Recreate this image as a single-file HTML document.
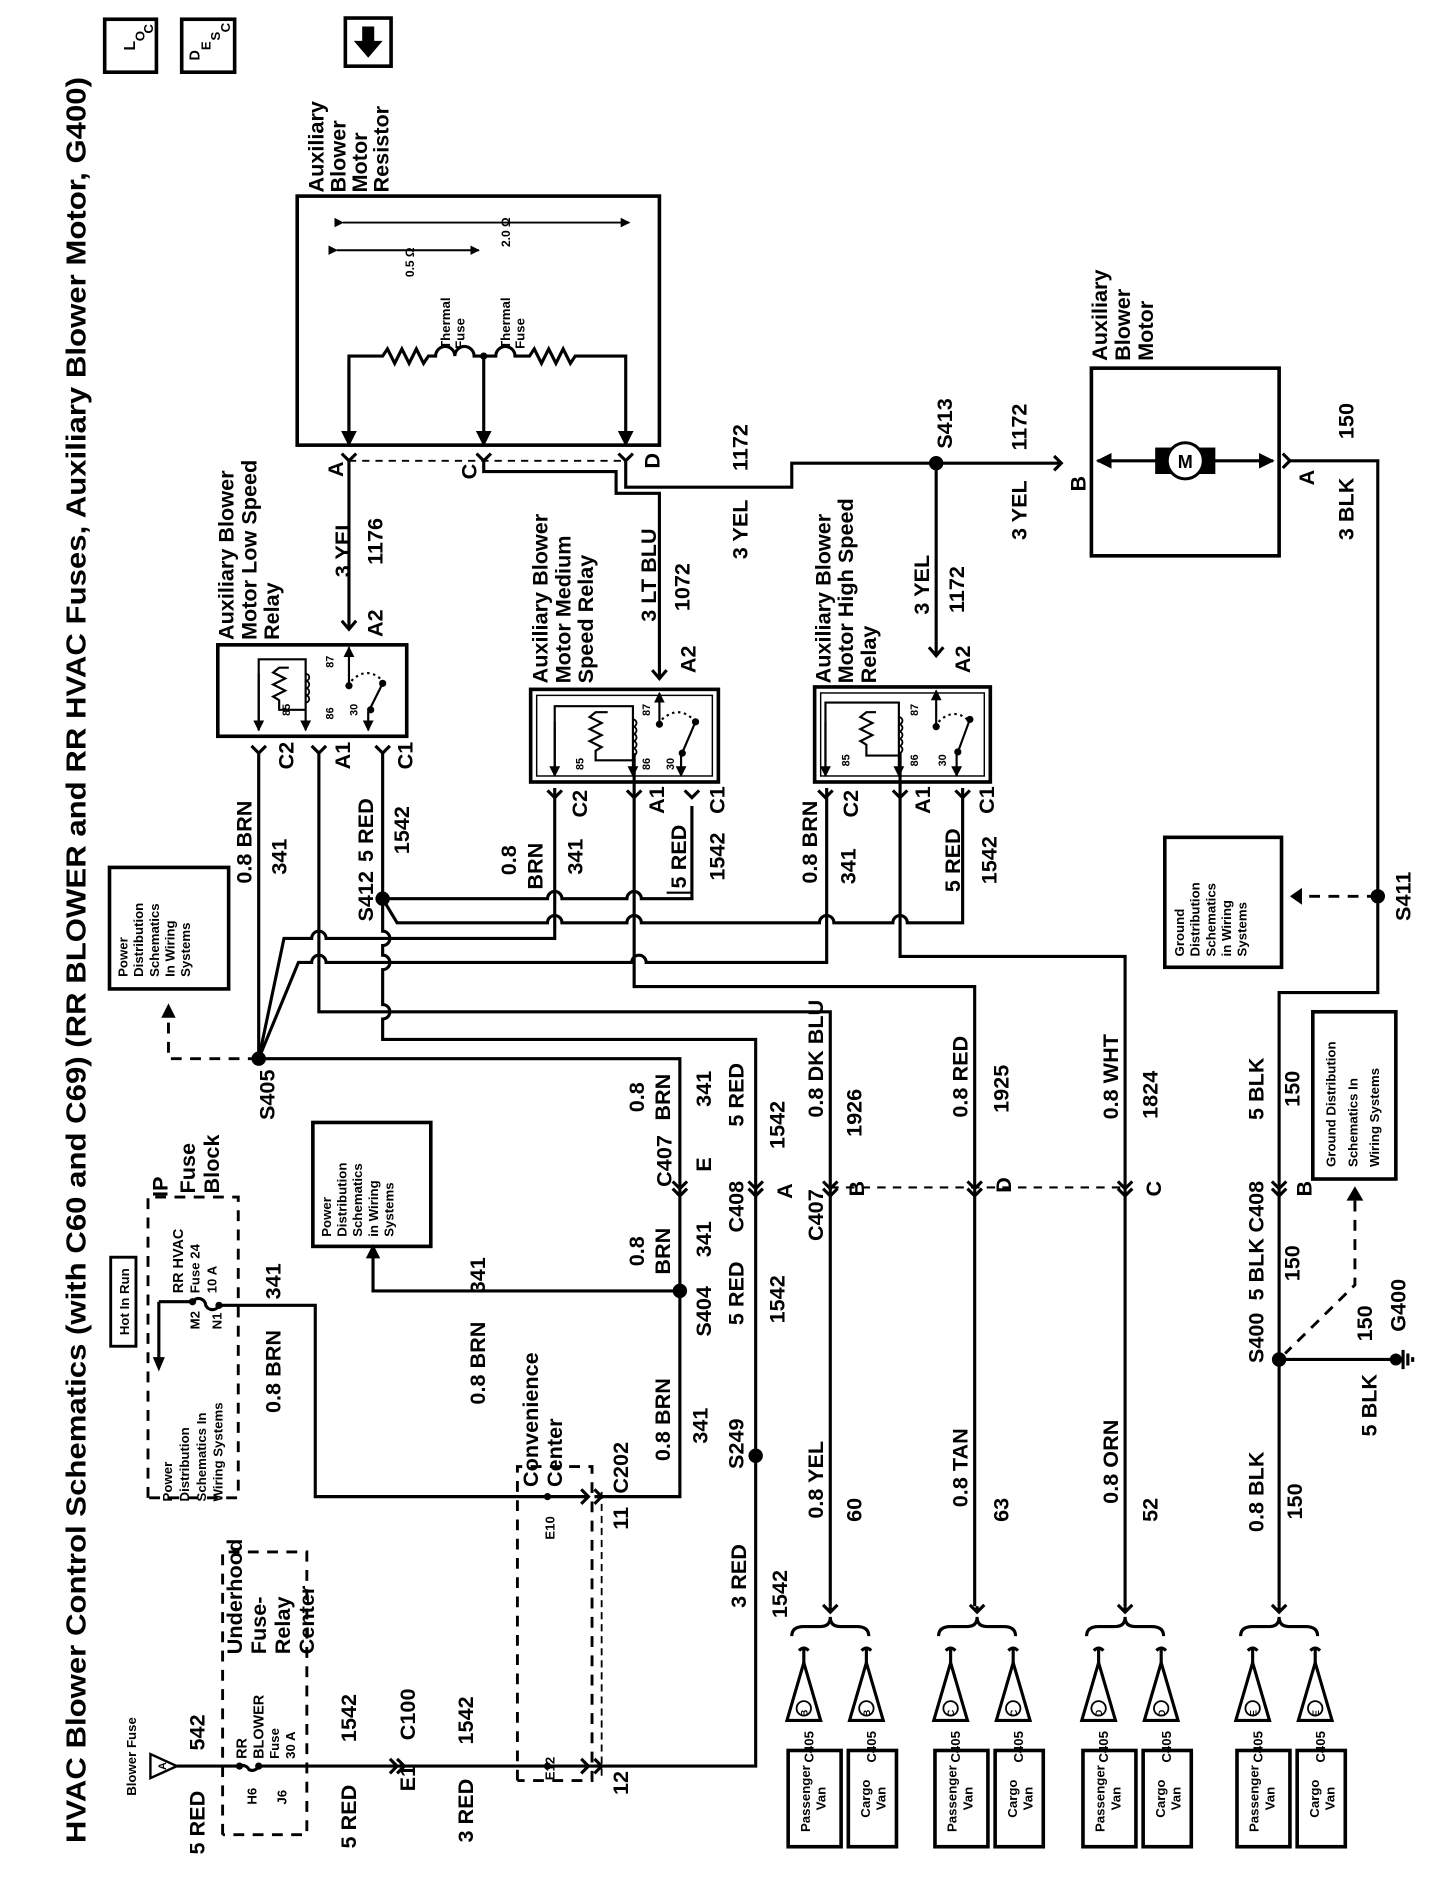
<!DOCTYPE html>
<html><head><meta charset="utf-8"><style>
html,body{margin:0;padding:0;background:#fff}
svg{display:block}
text{font-family:"Liberation Sans",Arial,sans-serif;font-weight:bold;fill:#000}
.t{font-size:18px;text-anchor:middle}
.s{font-size:18px;text-anchor:start}
.e{font-size:18px;text-anchor:end}
.m{font-size:11px;text-anchor:start}
.sm{font-size:10px;text-anchor:middle}
.w{stroke:#000;stroke-width:2.6;fill:none}
.d{stroke:#000;stroke-width:2.4;fill:none;stroke-dasharray:9 7}
.b{stroke:#000;stroke-width:3;fill:none}
</style></head><body>
<svg width="1456" height="1878" viewBox="0 0 1210 1561" preserveAspectRatio="none" xmlns="http://www.w3.org/2000/svg">
<defs>
<marker id="ah" viewBox="0 0 10 10" refX="9" refY="5" markerWidth="5" markerHeight="5" orient="auto"><path d="M0,0 L10,5 L0,10 z" fill="#000"/></marker>
</defs>

<!-- Title -->
<text class="s" style="font-size:23px" textLength="1468" lengthAdjust="spacingAndGlyphs" transform="translate(71 1532) rotate(-90)">HVAC Blower Control Schematics (with C60 and C69) (RR BLOWER and RR HVAC Fuses, Auxiliary Blower Motor, G400)</text>

<!-- top icons -->
<rect x="87" y="16" width="43" height="44" class="b"/>
<text class="sm" style="font-size:13px" transform="translate(112 38) rotate(-90)">L</text>
<text class="sm" style="font-size:11px" transform="translate(120 30) rotate(-90)">O</text>
<text class="sm" style="font-size:11px" transform="translate(127 24) rotate(-90)">C</text>
<rect x="151" y="16" width="44" height="44" class="b"/>
<text class="sm" style="font-size:12px" transform="translate(166 46) rotate(-90)">D</text>
<text class="sm" style="font-size:11px" transform="translate(175 38) rotate(-90)">E</text>
<text class="sm" style="font-size:11px" transform="translate(183 30) rotate(-90)">S</text>
<text class="sm" style="font-size:11px" transform="translate(191 23) rotate(-90)">C</text>
<rect x="287" y="15" width="38" height="40" class="b"/>
<path d="M301,22 h10 v12 h7 l-12,14 l-12,-14 h7 z" fill="#000"/>

<!-- Resistor -->
<text class="s" transform="translate(269 160) rotate(-90)">Auxiliary</text>
<text class="s" transform="translate(287 160) rotate(-90)">Blower</text>
<text class="s" transform="translate(305 160) rotate(-90)">Motor</text>
<text class="s" transform="translate(323 160) rotate(-90)">Resistor</text>
<rect x="247" y="163" width="301" height="207" class="b"/>
<line x1="285" y1="185" x2="523" y2="185" class="w" marker-end="url(#ah)" marker-start="url(#ah)" style="stroke-width:1.6"/>
<line x1="280" y1="208" x2="398" y2="208" class="w" marker-end="url(#ah)" marker-start="url(#ah)" style="stroke-width:1.6"/>
<text class="sm" transform="translate(424 193) rotate(-90)">2.0 Ω</text>
<text class="sm" transform="translate(344 218) rotate(-90)">0.5 Ω</text>
<text class="m" transform="translate(374 290) rotate(-90)">Thermal</text>
<text class="m" transform="translate(386 290) rotate(-90)">Fuse</text>
<text class="m" transform="translate(424 290) rotate(-90)">Thermal</text>
<text class="m" transform="translate(436 290) rotate(-90)">Fuse</text>
<path class="w" d="M290,370 V296 H318 l4,-6 l6,12 l6,-12 l6,12 l6,-12 l6,12 l4,-6 H362 a8,8 0 0 1 16,0 a8,8 0 0 1 16,0 H412 a8,8 0 0 1 16,0 H440 l4,-6 l6,12 l6,-12 l6,12 l6,-12 l6,12 l4,-6 H520 V370" marker-end="url(#ah)"/>
<line x1="290" y1="300" x2="290" y2="370" class="w" marker-end="url(#ah)"/>
<line x1="402" y1="296" x2="402" y2="370" class="w" marker-end="url(#ah)"/>
<circle cx="402" cy="296" r="3"/>
<line x1="290" y1="383" x2="520" y2="383" class="d" style="stroke-width:1.6;stroke-dasharray:6 5"/>
<text class="t" transform="translate(285 390) rotate(-90)">A</text>
<text class="t" transform="translate(396 392) rotate(-90)">C</text>
<text class="t" transform="translate(548 383) rotate(-90)">D</text>
<path class="w" d="M284,377 l6,6 l6,-6 M396,377 l6,6 l6,-6 M514,377 l6,6 l6,-6"/>

<!-- Wire A to low relay -->
<path class="w" d="M290,383 V522"/>
<path class="w" d="M284,516 l6,7 l6,-7"/>
<text class="t" transform="translate(291 455) rotate(-90)">3 YEL</text>
<text class="t" transform="translate(318 450) rotate(-90)">1176</text>
<text class="t" transform="translate(318 518) rotate(-90)">A2</text>

<!-- Low relay -->
<text class="s" transform="translate(194 532) rotate(-90)">Auxiliary Blower</text>
<text class="s" transform="translate(213 532) rotate(-90)">Motor Low Speed</text>
<text class="s" transform="translate(232 532) rotate(-90)">Relay</text>
<rect x="181" y="536" width="157" height="76" class="b"/>
<path class="w" d="M215,607 V548 H254 V607" marker-end="url(#ah)" style="stroke-width:1.8"/>
<line x1="215" y1="560" x2="215" y2="607" class="w" marker-end="url(#ah)" style="stroke-width:1.8"/>
<path class="w" style="stroke-width:1.8" d="M240,555 H232 l-5,4 l10,5 l-10,5 l10,5 l-10,5 l5,3 V590 H254"/>
<path class="w" style="stroke-width:1.5" d="M254,560 a3,3 0 0 1 0,6 a3,3 0 0 1 0,6 a3,3 0 0 1 0,6 a3,3 0 0 1 0,6"/>
<line x1="290" y1="570" x2="290" y2="538" class="w" marker-end="url(#ah)" style="stroke-width:1.8"/>
<circle cx="290" cy="570" r="3"/>
<path d="M292,566 q12,-12 24,-2" class="w" style="stroke-dasharray:2 3;stroke-width:1.8"/>
<path class="w" style="stroke-width:1.8" d="M318,568 L306,592 V607" marker-end="url(#ah)"/>
<circle cx="318" cy="568" r="3"/><circle cx="308" cy="590" r="3"/>
<text class="sm" style="font-size:9px" transform="translate(241 590) rotate(-90)">85</text>
<text class="sm" style="font-size:9px" transform="translate(277 593) rotate(-90)">86</text>
<text class="sm" style="font-size:9px" transform="translate(277 550) rotate(-90)">87</text>
<text class="sm" style="font-size:9px" transform="translate(297 590) rotate(-90)">30</text>
<path class="w" d="M209,620 l6,6 l6,-6 M259,620 l6,6 l6,-6 M312,620 l6,6 l6,-6"/>
<text class="t" transform="translate(244 628) rotate(-90)">C2</text>
<text class="t" transform="translate(291 628) rotate(-90)">A1</text>
<text class="t" transform="translate(343 628) rotate(-90)">C1</text>
<text class="t" transform="translate(209 700) rotate(-90)">0.8 BRN</text>
<text class="t" transform="translate(238 712) rotate(-90)">341</text>
<text class="t" transform="translate(310 690) rotate(-90)">5 RED</text>
<text class="t" transform="translate(340 690) rotate(-90)">1542</text>
<text class="t" transform="translate(310 745) rotate(-90)">S412</text>

<!-- C wire to medium relay -->
<path class="w" d="M402,383 V392 H512 V410 H548 V563"/>
<path class="w" d="M542,557 l6,7 l6,-7"/>
<text class="t" transform="translate(545 478) rotate(-90)">3 LT BLU</text>
<text class="t" transform="translate(573 488) rotate(-90)">1072</text>
<text class="t" transform="translate(578 548) rotate(-90)">A2</text>

<!-- Medium relay -->
<text class="s" transform="translate(455 568) rotate(-90)">Auxiliary Blower</text>
<text class="s" transform="translate(474 568) rotate(-90)">Motor Medium</text>
<text class="s" transform="translate(493 568) rotate(-90)">Speed Relay</text>
<rect x="441" y="573" width="156" height="77" class="b"/>
<rect x="446" y="578" width="146" height="67" class="w" style="stroke-width:1.2"/>
<path class="w" d="M461,645 V587 H526 V645" marker-end="url(#ah)" style="stroke-width:1.8"/>
<line x1="461" y1="600" x2="461" y2="645" class="w" marker-end="url(#ah)" style="stroke-width:1.8"/>
<path class="w" style="stroke-width:1.8" d="M505,592 H495 l-5,4 l10,5 l-10,5 l10,5 l-10,5 l10,5 l-5,3 V632 H526"/>
<path class="w" style="stroke-width:1.5" d="M526,598 a3,3 0 0 1 0,6 a3,3 0 0 1 0,6 a3,3 0 0 1 0,6 a3,3 0 0 1 0,6 a3,3 0 0 1 0,6"/>
<line x1="548" y1="602" x2="548" y2="576" class="w" marker-end="url(#ah)" style="stroke-width:1.8"/>
<circle cx="548" cy="602" r="3"/>
<path d="M550,598 q14,-12 26,0" class="w" style="stroke-dasharray:2 3;stroke-width:1.8"/>
<path class="w" style="stroke-width:1.8" d="M578,600 L566,628 V645" marker-end="url(#ah)"/>
<circle cx="578" cy="600" r="3"/><circle cx="567" cy="626" r="3"/>
<text class="sm" style="font-size:9px" transform="translate(485 635) rotate(-90)">85</text>
<text class="sm" style="font-size:9px" transform="translate(540 635) rotate(-90)">86</text>
<text class="sm" style="font-size:9px" transform="translate(540 590) rotate(-90)">87</text>
<text class="sm" style="font-size:9px" transform="translate(560 635) rotate(-90)">30</text>
<path class="w" d="M455,657 l6,6 l6,-6 M521,657 l6,6 l6,-6 M569,657 l6,6 l6,-6"/>
<text class="t" transform="translate(488 668) rotate(-90)">C2</text>
<text class="t" transform="translate(552 665) rotate(-90)">A1</text>
<text class="t" transform="translate(602 665) rotate(-90)">C1</text>
<text class="t" transform="translate(429 715) rotate(-90)">0.8</text>
<text class="t" transform="translate(451 720) rotate(-90)">BRN</text>
<text class="t" transform="translate(484 712) rotate(-90)">341</text>
<text class="t" transform="translate(570 712) rotate(-90)">5 RED</text>
<path class="w" style="stroke-width:1.8" d="M554,742 H575 V670"/>
<text class="t" transform="translate(602 712) rotate(-90)">1542</text>

<!-- D wire to motor -->
<path class="w" d="M520,383 V405 H658 V385 H882"/>
<path class="w" d="M876,379 l6,6 l-6,6"/>
<text class="t" transform="translate(621 440) rotate(-90)">3 YEL</text>
<text class="t" transform="translate(621 372) rotate(-90)">1172</text>
<circle cx="778" cy="385" r="6"/>
<text class="t" transform="translate(791 352) rotate(-90)">S413</text>
<text class="t" transform="translate(853 355) rotate(-90)">1172</text>
<text class="t" transform="translate(853 424) rotate(-90)">3 YEL</text>
<path class="w" d="M778,385 V544"/>
<path class="w" d="M772,538 l6,7 l6,-7"/>
<text class="t" transform="translate(772 486) rotate(-90)">3 YEL</text>
<text class="t" transform="translate(801 490) rotate(-90)">1172</text>
<text class="t" transform="translate(806 548) rotate(-90)">A2</text>

<!-- High relay -->
<text class="s" transform="translate(690 568) rotate(-90)">Auxiliary Blower</text>
<text class="s" transform="translate(709 568) rotate(-90)">Motor High Speed</text>
<text class="s" transform="translate(728 568) rotate(-90)">Relay</text>
<rect x="677" y="571" width="146" height="79" class="b"/>
<rect x="682" y="576" width="136" height="69" class="w" style="stroke-width:1.2"/>
<path class="w" d="M686,645 V584 H747 V645" marker-end="url(#ah)" style="stroke-width:1.8"/>
<line x1="686" y1="600" x2="686" y2="645" class="w" marker-end="url(#ah)" style="stroke-width:1.8"/>
<path class="w" style="stroke-width:1.8" d="M728,592 H720 l-5,4 l10,5 l-10,5 l10,5 l-10,5 l5,3 V628 H747"/>
<path class="w" style="stroke-width:1.5" d="M747,596 a3,3 0 0 1 0,6 a3,3 0 0 1 0,6 a3,3 0 0 1 0,6 a3,3 0 0 1 0,6 a3,3 0 0 1 0,6"/>
<line x1="778" y1="604" x2="778" y2="574" class="w" marker-end="url(#ah)" style="stroke-width:1.8"/>
<circle cx="778" cy="604" r="3"/>
<path d="M780,600 q12,-12 24,-2" class="w" style="stroke-dasharray:2 3;stroke-width:1.8"/>
<path class="w" style="stroke-width:1.8" d="M806,598 L795,628 V645" marker-end="url(#ah)"/>
<circle cx="806" cy="598" r="3"/><circle cx="796" cy="625" r="3"/>
<text class="sm" style="font-size:9px" transform="translate(706 632) rotate(-90)">85</text>
<text class="sm" style="font-size:9px" transform="translate(763 632) rotate(-90)">86</text>
<text class="sm" style="font-size:9px" transform="translate(763 590) rotate(-90)">87</text>
<text class="sm" style="font-size:9px" transform="translate(786 632) rotate(-90)">30</text>
<path class="w" d="M680,657 l6,6 l6,-6 M742,657 l6,6 l6,-6 M794,657 l6,6 l6,-6"/>
<text class="t" transform="translate(713 668) rotate(-90)">C2</text>
<text class="t" transform="translate(773 665) rotate(-90)">A1</text>
<text class="t" transform="translate(826 665) rotate(-90)">C1</text>
<text class="t" transform="translate(679 700) rotate(-90)">0.8 BRN</text>
<text class="t" transform="translate(711 720) rotate(-90)">341</text>
<text class="t" transform="translate(798 715) rotate(-90)">5 RED</text>
<text class="t" transform="translate(828 715) rotate(-90)">1542</text>

<!-- Motor -->
<text class="s" transform="translate(920 300) rotate(-90)">Auxiliary</text>
<text class="s" transform="translate(939 300) rotate(-90)">Blower</text>
<text class="s" transform="translate(958 300) rotate(-90)">Motor</text>
<rect x="907" y="306" width="156" height="156" class="b"/>
<line x1="962" y1="383" x2="912" y2="383" class="w" marker-end="url(#ah)"/>
<line x1="1008" y1="383" x2="1058" y2="383" class="w" marker-end="url(#ah)"/>
<rect x="960" y="372" width="50" height="22" fill="#000"/>
<circle cx="985" cy="383" r="15" fill="#fff" stroke="#000" stroke-width="2.5"/>
<text class="t" style="font-size:15px" x="985" y="389">M</text>
<text class="t" transform="translate(902 402) rotate(-90)">B</text>
<path class="w" d="M1066,377 l6,6 l-6,6"/>
<text class="t" transform="translate(1092 397) rotate(-90)">A</text>
<path class="w" d="M1072,383 H1145 V825 H1063 V1335"/>
<text class="t" transform="translate(1125 350) rotate(-90)">150</text>
<text class="t" transform="translate(1125 423) rotate(-90)">3 BLK</text>
<circle cx="1145" cy="745" r="6"/>
<text class="t" transform="translate(1172 745) rotate(-90)">S411</text>
<rect x="968" y="696" width="97" height="108" class="b"/>
<text class="m" transform="translate(984 795) rotate(-90)">Ground</text>
<text class="m" transform="translate(997 795) rotate(-90)">Distribution</text>
<text class="m" transform="translate(1010 795) rotate(-90)">Schematics</text>
<text class="m" transform="translate(1023 795) rotate(-90)">in Wiring</text>
<text class="m" transform="translate(1036 795) rotate(-90)">Systems</text>
<line x1="1145" y1="745" x2="1085" y2="745" class="d"/>
<path d="M1072,738 v14 l10,-7 z" fill="#000" transform="rotate(180 1077 745)"/>

<!-- S405 and crossing bus -->
<path class="w" d="M215,626 V880 H565 V1244 H494"/>
<circle cx="215" cy="880" r="6"/>
<text class="t" transform="translate(228 910) rotate(-90)">S405</text>
<path class="w" d="M215,880 L236,780 H259 a6,6 0 0 1 12,0 H461 V655"/>
<path class="w" d="M215,880 L248,800 H259 a6,6 0 0 1 12,0 H525 a6,6 0 0 1 12,0 H687 V655"/>
<path class="w" d="M265,626 V841 H690 V1335"/>
<path class="w" d="M318,626 V747 H455 a6,6 0 0 1 12,0 H521 a6,6 0 0 1 12,0 H575 V670"/>
<circle cx="318" cy="747" r="6"/>
<path class="w" d="M318,747 L330,767 H455 a6,6 0 0 1 12,0 H521 a6,6 0 0 1 12,0 H681 a6,6 0 0 1 12,0 H742 a6,6 0 0 1 12,0 H800 V655"/>
<path class="w" d="M318,747 V774 a6,6 0 0 1 0,12 V794 a6,6 0 0 1 0,12 V835 a6,6 0 0 1 0,12 V864 H628 V1468 H215"/>
<path class="w" d="M527,626 V820 H810 V1335"/>
<path class="w" d="M748,626 V795 H935 V1335"/>
<circle cx="628" cy="1210" r="6"/>

<!-- power dist box 1 -->
<rect x="91" y="721" width="99" height="101" class="b"/>
<text class="m" transform="translate(106 812) rotate(-90)">Power</text>
<text class="m" transform="translate(119 812) rotate(-90)">Distribution</text>
<text class="m" transform="translate(132 812) rotate(-90)">Schematics</text>
<text class="m" transform="translate(145 812) rotate(-90)">In Wiring</text>
<text class="m" transform="translate(158 812) rotate(-90)">Systems</text>
<path class="d" d="M215,880 H140 V845"/>
<path d="M134,846 h12 l-6,-12 z" fill="#000"/>

<!-- 565 line labels -->
<text class="t" transform="translate(535 912) rotate(-90)">0.8</text>
<text class="t" transform="translate(557 912) rotate(-90)">BRN</text>
<text class="t" transform="translate(591 905) rotate(-90)">341</text>
<path class="w" d="M559,982 l6,6 l6,-6 M559,988 l6,6 l6,-6"/>
<text class="t" transform="translate(558 965) rotate(-90)">C407</text>
<text class="t" transform="translate(591 968) rotate(-90)">E</text>
<text class="t" transform="translate(535 1040) rotate(-90)">0.8</text>
<text class="t" transform="translate(557 1040) rotate(-90)">BRN</text>
<text class="t" transform="translate(591 1030) rotate(-90)">341</text>
<circle cx="565" cy="1073" r="6"/>
<text class="t" transform="translate(591 1090) rotate(-90)">S404</text>
<path class="w" d="M565,1073 H310 V1045"/>
<path d="M304,1046 h12 l-6,-12 z" fill="#000"/>
<text class="t" transform="translate(403 1060) rotate(-90)">341</text>
<rect x="260" y="933" width="98" height="103" class="b"/>
<text class="m" transform="translate(275 1028) rotate(-90)">Power</text>
<text class="m" transform="translate(288 1028) rotate(-90)">Distribution</text>
<text class="m" transform="translate(301 1028) rotate(-90)">Schematics</text>
<text class="m" transform="translate(314 1028) rotate(-90)">in Wiring</text>
<text class="m" transform="translate(327 1028) rotate(-90)">Systems</text>
<text class="t" transform="translate(403 1133) rotate(-90)">0.8 BRN</text>
<text class="t" transform="translate(557 1180) rotate(-90)">0.8 BRN</text>
<text class="t" transform="translate(588 1185) rotate(-90)">341</text>

<!-- IP fuse block -->
<path class="d" d="M123,1245 V995 H198 V1245 H123"/>
<rect x="92" y="1045" width="21" height="74" class="w" style="stroke-width:2.4"/>
<text class="t" style="font-size:11px" transform="translate(107 1082) rotate(-90)">Hot In Run</text>
<text class="s" transform="translate(139 995) rotate(-90)">IP</text>
<text class="s" transform="translate(162 992) rotate(-90)">Fuse</text>
<text class="s" transform="translate(182 992) rotate(-90)">Block</text>
<text class="m" style="font-size:12px" transform="translate(152 1075) rotate(-90)">RR HVAC</text>
<text class="m" style="font-size:11px" transform="translate(166 1075) rotate(-90)">Fuse 24</text>
<text class="m" style="font-size:11px" transform="translate(180 1075) rotate(-90)">10 A</text>
<text class="m" style="font-size:11px" transform="translate(166 1105) rotate(-90)">M2</text>
<text class="m" style="font-size:11px" transform="translate(184 1105) rotate(-90)">N1</text>
<path class="w" d="M132,1082 H160 a6,6 0 0 1 11,3 a6,6 0 0 0 11,0 H262 V1244 H488"/>
<circle cx="160" cy="1082" r="3"/><circle cx="182" cy="1085" r="3"/>
<path class="w" d="M132,1082 V1130"/>
<path d="M127,1128 h10 l-5,12 z" fill="#000"/>
<text class="m" transform="translate(143 1248) rotate(-90)">Power</text>
<text class="m" transform="translate(157 1248) rotate(-90)">Distribution</text>
<text class="m" transform="translate(171 1248) rotate(-90)">Schematics In</text>
<text class="m" transform="translate(185 1248) rotate(-90)">Wiring Systems</text>
<text class="t" transform="translate(233 1065) rotate(-90)">341</text>
<text class="t" transform="translate(233 1140) rotate(-90)">0.8 BRN</text>

<!-- Convenience center -->
<path class="d" d="M430,1480 V1219 H492 V1480 H430"/>
<line x1="500" y1="1240" x2="500" y2="1480" class="d" style="stroke-width:1.5;stroke-dasharray:6 4"/>
<text class="s" transform="translate(447 1236) rotate(-90)">Convenience</text>
<text class="s" transform="translate(467 1236) rotate(-90)">Center</text>
<text class="sm" style="font-size:11px" transform="translate(461 1270) rotate(-90)">E10</text>
<text class="sm" style="font-size:11px" transform="translate(461 1470) rotate(-90)">E12</text>
<circle cx="455" cy="1244" r="3"/><circle cx="455" cy="1468" r="3"/>
<path class="w" d="M483,1238 l6,6 l-6,6 M494,1238 l6,6 l-6,6 M483,1462 l6,6 l-6,6 M494,1462 l6,6 l-6,6"/>
<text class="t" transform="translate(522 1220) rotate(-90)">C202</text>
<text class="t" transform="translate(522 1262) rotate(-90)">11</text>
<text class="t" transform="translate(522 1482) rotate(-90)">12</text>

<!-- 628 labels -->
<text class="t" transform="translate(618 910) rotate(-90)">5 RED</text>
<text class="t" transform="translate(652 935) rotate(-90)">1542</text>
<path class="w" d="M622,982 l6,6 l6,-6 M622,988 l6,6 l6,-6"/>
<text class="t" transform="translate(618 1003) rotate(-90)">C408</text>
<text class="t" transform="translate(658 990) rotate(-90)">A</text>
<text class="t" transform="translate(618 1075) rotate(-90)">5 RED</text>
<text class="t" transform="translate(652 1080) rotate(-90)">1542</text>
<text class="t" transform="translate(618 1200) rotate(-90)">S249</text>
<text class="t" transform="translate(620 1310) rotate(-90)">3 RED</text>
<text class="t" transform="translate(654 1325) rotate(-90)">1542</text>

<!-- 690 -->
<text class="t" transform="translate(684 880) rotate(-90)">0.8 DK BLU</text>
<text class="t" transform="translate(716 925) rotate(-90)">1926</text>
<path class="w" d="M684,982 l6,6 l6,-6 M684,988 l6,6 l6,-6"/>
<text class="t" transform="translate(684 1010) rotate(-90)">C407</text>
<text class="t" transform="translate(718 988) rotate(-90)">B</text>
<line x1="690" y1="987" x2="935" y2="987" class="d" style="stroke-width:1.8;stroke-dasharray:7 6"/>
<text class="t" transform="translate(684 1230) rotate(-90)">0.8 YEL</text>
<text class="t" transform="translate(716 1255) rotate(-90)">60</text>
<!-- 810 -->
<text class="t" transform="translate(804 895) rotate(-90)">0.8 RED</text>
<text class="t" transform="translate(838 905) rotate(-90)">1925</text>
<path class="w" d="M804,982 l6,6 l6,-6 M804,988 l6,6 l6,-6"/>
<text class="t" transform="translate(840 985) rotate(-90)">D</text>
<text class="t" transform="translate(804 1220) rotate(-90)">0.8 TAN</text>
<text class="t" transform="translate(838 1255) rotate(-90)">63</text>
<!-- 935 -->
<text class="t" transform="translate(929 895) rotate(-90)">0.8 WHT</text>
<text class="t" transform="translate(962 910) rotate(-90)">1824</text>
<path class="w" d="M929,982 l6,6 l6,-6 M929,988 l6,6 l6,-6"/>
<text class="t" transform="translate(965 988) rotate(-90)">C</text>
<text class="t" transform="translate(929 1215) rotate(-90)">0.8 ORN</text>
<text class="t" transform="translate(962 1255) rotate(-90)">52</text>
<!-- 1063 -->
<text class="t" transform="translate(1050 905) rotate(-90)">5 BLK</text>
<text class="t" transform="translate(1080 905) rotate(-90)">150</text>
<path class="w" d="M1057,982 l6,6 l6,-6 M1057,988 l6,6 l6,-6"/>
<text class="t" transform="translate(1050 1003) rotate(-90)">C408</text>
<text class="t" transform="translate(1090 988) rotate(-90)">B</text>
<text class="t" transform="translate(1050 1055) rotate(-90)">5 BLK</text>
<text class="t" transform="translate(1080 1050) rotate(-90)">150</text>
<circle cx="1063" cy="1130" r="6"/>
<text class="t" transform="translate(1050 1112) rotate(-90)">S400</text>
<path class="w" d="M1063,1130 H1160"/>
<circle cx="1160" cy="1130" r="5"/>
<path class="w" d="M1166,1122 v16 M1170,1125 v10 M1174,1128 v4"/>
<text class="t" transform="translate(1140 1100) rotate(-90)">150</text>
<text class="t" transform="translate(1168 1085) rotate(-90)">G400</text>
<text class="t" transform="translate(1144 1168) rotate(-90)">5 BLK</text>
<text class="t" transform="translate(1050 1240) rotate(-90)">0.8 BLK</text>
<text class="t" transform="translate(1082 1248) rotate(-90)">150</text>
<rect x="1091" y="841" width="69" height="139" class="b"/>
<text class="m" transform="translate(1110 970) rotate(-90)">Ground Distribution</text>
<text class="m" transform="translate(1128 970) rotate(-90)">Schematics In</text>
<text class="m" transform="translate(1146 970) rotate(-90)">Wiring Systems</text>
<path class="d" d="M1126,998 V1068 L1068,1125"/>
<path d="M1119,998 h14 l-7,-12 z" fill="#000"/>

<!-- Bottom left power source -->
<path d="M125,1458 L147,1468 L125,1478 z" class="w" style="stroke-width:2"/>
<text class="sm" style="font-size:9px" transform="translate(138 1468) rotate(-90)">A</text>
<text class="t" style="font-size:11px" transform="translate(113 1460) rotate(-90)">Blower Fuse</text>
<text class="t" transform="translate(170 1515) rotate(-90)">5 RED</text>
<text class="t" transform="translate(170 1440) rotate(-90)">542</text>
<path class="d" d="M185,1525 V1290 H255 V1525 H185"/>
<text class="s" transform="translate(201 1375) rotate(-90)">Underhood</text>
<text class="s" transform="translate(221 1375) rotate(-90)">Fuse-</text>
<text class="s" transform="translate(241 1375) rotate(-90)">Relay</text>
<text class="s" transform="translate(261 1375) rotate(-90)">Center</text>
<text class="m" style="font-size:12px" transform="translate(205 1462) rotate(-90)">RR</text>
<text class="m" style="font-size:12px" transform="translate(219 1462) rotate(-90)">BLOWER</text>
<text class="m" transform="translate(232 1462) rotate(-90)">Fuse</text>
<text class="m" transform="translate(245 1462) rotate(-90)">30 A</text>
<text class="m" transform="translate(213 1500) rotate(-90)">H6</text>
<text class="m" transform="translate(238 1500) rotate(-90)">J6</text>
<path class="w" d="M147,1468 H199 a6,6 0 0 1 8,3 a6,6 0 0 0 8,-3"/>
<circle cx="199" cy="1468" r="3"/><circle cx="215" cy="1468" r="3"/>
<text class="t" transform="translate(296 1510) rotate(-90)">5 RED</text>
<text class="t" transform="translate(296 1428) rotate(-90)">1542</text>
<path class="w" d="M324,1462 l6,6 l-6,6 M330,1462 l6,6 l-6,6"/>
<text class="t" transform="translate(345 1478) rotate(-90)">E1</text>
<text class="t" transform="translate(345 1425) rotate(-90)">C100</text>
<text class="t" transform="translate(393 1505) rotate(-90)">3 RED</text>
<text class="t" transform="translate(393 1430) rotate(-90)">1542</text>

<!-- C405 groups -->
<g id="grp">
<path class="w" d="M690,1335 V1340 M684,1334 l6,6 l6,-6 M658,1360 q0,-8 10,-8 H682 q8,0 8,-8 q0,8 8,8 H712 q10,0 10,8"/>
<path class="w" d="M668,1370 V1385 M720,1370 V1385 M664,1372 q4,-4 8,0 M716,1372 q4,-4 8,0"/>
<path class="w" d="M668,1382 L654,1430 H682 z M720,1382 L706,1430 H734 z"/>
<circle cx="668" cy="1420" r="6" fill="#fff" stroke="#000" stroke-width="1.5"/>
<circle cx="720" cy="1420" r="6" fill="#fff" stroke="#000" stroke-width="1.5"/>
<rect x="655" y="1455" width="44" height="80" class="b"/>
<rect x="705" y="1455" width="40" height="80" class="b"/>
</g>
<use href="#grp" x="122" y="0"/>
<use href="#grp" x="245" y="0"/>
<use href="#grp" x="373" y="0"/>
<text class="sm" style="font-size:8px" transform="translate(671 1424) rotate(-90)">B</text>
<text class="sm" style="font-size:8px" transform="translate(723 1424) rotate(-90)">B</text>
<text class="sm" style="font-size:8px" transform="translate(793 1424) rotate(-90)">C</text>
<text class="sm" style="font-size:8px" transform="translate(845 1424) rotate(-90)">C</text>
<text class="sm" style="font-size:8px" transform="translate(916 1424) rotate(-90)">D</text>
<text class="sm" style="font-size:8px" transform="translate(968 1424) rotate(-90)">D</text>
<text class="sm" style="font-size:8px" transform="translate(1044 1424) rotate(-90)">E</text>
<text class="sm" style="font-size:8px" transform="translate(1096 1424) rotate(-90)">E</text>
<text class="sm" style="font-size:11px" transform="translate(676 1452) rotate(-90)">C405</text>
<text class="sm" style="font-size:11px" transform="translate(728 1452) rotate(-90)">C405</text>
<text class="sm" style="font-size:11px" transform="translate(798 1452) rotate(-90)">C405</text>
<text class="sm" style="font-size:11px" transform="translate(850 1452) rotate(-90)">C405</text>
<text class="sm" style="font-size:11px" transform="translate(921 1452) rotate(-90)">C405</text>
<text class="sm" style="font-size:11px" transform="translate(973 1452) rotate(-90)">C405</text>
<text class="sm" style="font-size:11px" transform="translate(1049 1452) rotate(-90)">C405</text>
<text class="sm" style="font-size:11px" transform="translate(1101 1452) rotate(-90)">C405</text>
<text class="sm" style="font-size:11px" transform="translate(673 1495) rotate(-90)">Passenger</text>
<text class="sm" style="font-size:11px" transform="translate(686 1495) rotate(-90)">Van</text>
<text class="sm" style="font-size:11px" transform="translate(723 1495) rotate(-90)">Cargo</text>
<text class="sm" style="font-size:11px" transform="translate(736 1495) rotate(-90)">Van</text>
<text class="sm" style="font-size:11px" transform="translate(795 1495) rotate(-90)">Passenger</text>
<text class="sm" style="font-size:11px" transform="translate(808 1495) rotate(-90)">Van</text>
<text class="sm" style="font-size:11px" transform="translate(845 1495) rotate(-90)">Cargo</text>
<text class="sm" style="font-size:11px" transform="translate(858 1495) rotate(-90)">Van</text>
<text class="sm" style="font-size:11px" transform="translate(918 1495) rotate(-90)">Passenger</text>
<text class="sm" style="font-size:11px" transform="translate(931 1495) rotate(-90)">Van</text>
<text class="sm" style="font-size:11px" transform="translate(968 1495) rotate(-90)">Cargo</text>
<text class="sm" style="font-size:11px" transform="translate(981 1495) rotate(-90)">Van</text>
<text class="sm" style="font-size:11px" transform="translate(1046 1495) rotate(-90)">Passenger</text>
<text class="sm" style="font-size:11px" transform="translate(1059 1495) rotate(-90)">Van</text>
<text class="sm" style="font-size:11px" transform="translate(1096 1495) rotate(-90)">Cargo</text>
<text class="sm" style="font-size:11px" transform="translate(1109 1495) rotate(-90)">Van</text>
</svg>
</body></html>
